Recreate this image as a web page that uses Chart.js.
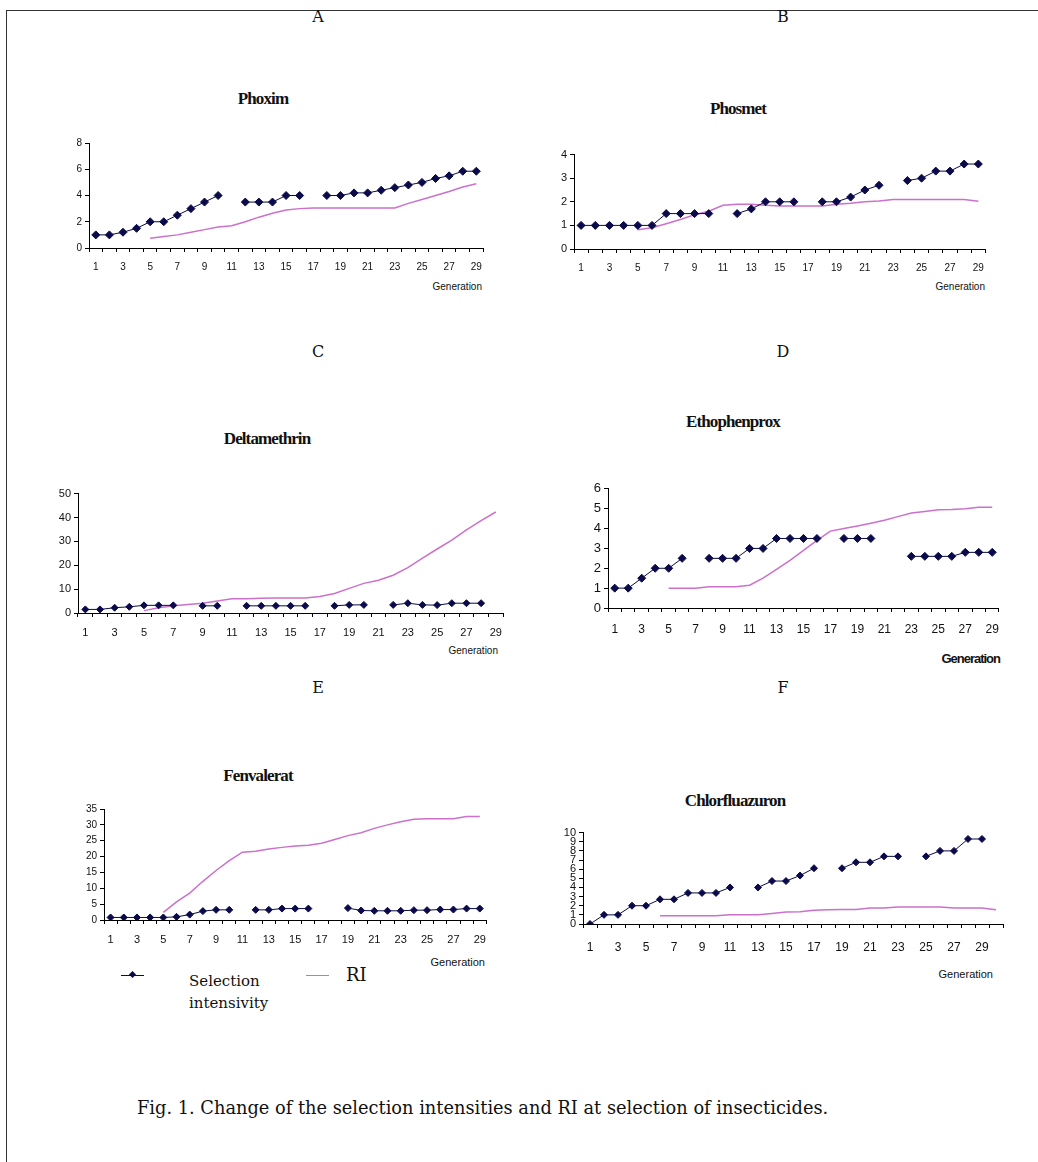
<!DOCTYPE html>
<html>
<head>
<meta charset="utf-8">
<script src="https://cdn.jsdelivr.net/npm/chart.js@4.4.1/dist/chart.umd.min.js"></script>
<style>
html,body{margin:0;padding:0;background:#fff;}
body{width:1038px;height:1162px;position:relative;overflow:hidden;}
#frame{position:absolute;left:6px;top:10px;width:1200px;height:1300px;border-left:1px solid #333;border-top:1px solid #333;}
.t{position:absolute;white-space:nowrap;transform:translate(-50%,-50%);color:#111;line-height:1;}
.r{position:absolute;white-space:nowrap;transform:translate(-100%,-50%);color:#111;line-height:1;}
.l{position:absolute;white-space:nowrap;transform:translate(0,-50%);color:#111;line-height:1;}
.letter{font-family:"DejaVu Serif",serif;font-size:16px;}
.title{font-family:"Liberation Serif",serif;font-weight:bold;font-size:17px;letter-spacing:-0.9px;}
.gen{font-family:"Liberation Sans",Arial,sans-serif;font-size:10px;}
.genb{font-family:"Liberation Sans Narrow","Liberation Sans",sans-serif;font-weight:bold;font-size:13px;letter-spacing:-1px;}
.leg{font-family:"DejaVu Serif",serif;font-size:15px;}
.cap{font-family:"DejaVu Serif",serif;font-size:17.8px;}
.wrap{position:absolute;}
</style>
</head>
<body>
<div id="frame"></div>

<div class="t letter" style="left:318px;top:17px;">A</div>
<div class="t letter" style="left:783px;top:17px;">B</div>
<div class="t letter" style="left:318px;top:352px;">C</div>
<div class="t letter" style="left:783px;top:352px;">D</div>
<div class="t letter" style="left:318px;top:688px;">E</div>
<div class="t letter" style="left:783px;top:688px;">F</div>

<div class="t title" style="left:263px;top:98px;">Phoxim</div>
<div class="t title" style="left:738px;top:108px;">Phosmet</div>
<div class="t title" style="left:267px;top:438px;">Deltamethrin</div>
<div class="t title" style="left:733px;top:421px;">Ethophenprox</div>
<div class="t title" style="left:258px;top:775px;">Fenvalerat</div>
<div class="t title" style="left:735px;top:800px;">Chlorfluazuron</div>

<div class="r gen" style="left:482px;top:287px;">Generation</div>
<div class="r gen" style="left:985px;top:287px;">Generation</div>
<div class="r gen" style="left:498px;top:651px;">Generation</div>
<div class="r genb" style="left:1000px;top:658px;">Generation</div>
<div class="r gen" style="left:485px;top:962px;font-size:11px;">Generation</div>
<div class="r gen" style="left:993px;top:974px;font-size:11px;">Generation</div>

<div style="position:absolute;left:121px;top:975px;width:23px;height:1px;background:#0a0a4a;"></div>
<div style="position:absolute;left:130px;top:972px;width:5px;height:5px;background:#0a0a4a;transform:rotate(45deg);"></div>
<div class="l leg" style="left:189px;top:981px;">Selection</div>
<div class="l leg" style="left:189px;top:1003px;">intensivity</div>
<div style="position:absolute;left:306px;top:975px;width:23px;height:1px;background:#cc70cc;"></div>
<div class="l leg" style="left:346px;top:975px;font-size:18px;">RI</div>

<div class="l cap" style="left:137px;top:1108px;">Fig. 1. Change of the selection intensities and RI at selection of insecticides.</div>

<div class="wrap" id="wA"><canvas id="cA"></canvas></div>
<div class="wrap" id="wB"><canvas id="cB"></canvas></div>
<div class="wrap" id="wC"><canvas id="cC"></canvas></div>
<div class="wrap" id="wD"><canvas id="cD"></canvas></div>
<div class="wrap" id="wE"><canvas id="cE"></canvas></div>
<div class="wrap" id="wF"><canvas id="cF"></canvas></div>

<script>
// ---- Data ----
const generations29 = ['1','2','3','4','5','6','7','8','9','10','11','12','13','14','15','16','17','18','19','20','21','22','23','24','25','26','27','28','29'];
const generations30 = ['1','2','3','4','5','6','7','8','9','10','11','12','13','14','15','16','17','18','19','20','21','22','23','24','25','26','27','28','29','30'];

const phoximSelection = [1,1,1.2,1.5,2,2,2.5,3,3.5,4,null,3.5,3.5,3.5,4,4,null,4,4,4.2,4.2,4.4,4.6,4.8,5,5.3,5.5,5.85,5.85];
const phoximRI = [null,null,null,null,0.75,0.88,1.0,1.2,1.4,1.6,1.7,2.0,2.35,2.65,2.9,3.0,3.05,3.05,3.05,3.05,3.05,3.05,3.05,3.4,3.7,4.0,4.3,4.65,4.9];

const phosmetSelection = [1,1,1,1,1,1,1.5,1.5,1.5,1.5,null,1.5,1.7,2,2,2,null,2,2,2.2,2.5,2.7,null,2.9,3,3.3,3.3,3.6,3.6];
const phosmetRI = [null,null,null,null,0.82,0.9,1.07,1.25,1.45,1.6,1.85,1.9,1.9,1.85,1.82,1.82,1.82,1.82,1.9,1.94,2.0,2.03,2.1,2.1,2.1,2.1,2.1,2.1,2.02];

const deltamethrinSelection = [1.5,1.5,2.2,2.6,3.2,3.2,3.2,null,3,3,null,3,3,3,3,3,null,3,3.4,3.4,null,3.4,4.1,3.4,3.3,4.1,4.1,4.1,null];
const deltamethrinRI = [null,null,null,null,1,2.2,3,3.6,4.1,5,6,6,6.2,6.3,6.3,6.3,6.9,8.2,10.3,12.4,13.7,15.8,19,23,26.8,30.5,34.8,38.7,42.3];

const ethophenproxSelection = [1,1,1.5,2,2,2.5,null,2.5,2.5,2.5,3,3,3.5,3.5,3.5,3.5,null,3.5,3.5,3.5,null,null,2.6,2.6,2.6,2.6,2.8,2.8,2.8];
const ethophenproxRI = [null,null,null,null,1,1,1,1.07,1.07,1.07,1.15,1.5,1.95,2.4,2.9,3.4,3.87,4.0,4.13,4.27,4.42,4.6,4.78,4.86,4.94,4.96,5.0,5.07,5.07];

const fenvaleratSelection = [0.8,0.8,0.8,0.8,0.8,1.0,1.7,2.8,3.2,3.2,null,3.2,3.2,3.6,3.6,3.6,null,null,3.75,3.0,2.9,2.9,2.9,3.1,3.1,3.3,3.3,3.6,3.6];
const fenvaleratRI = [null,null,null,null,2.4,5.7,8.5,12.2,15.6,18.75,21.4,21.7,22.4,22.9,23.3,23.6,24.2,25.4,26.6,27.5,28.9,30.0,31.0,31.8,31.9,31.9,31.9,32.6,32.6];

const chlorfluazuronSelection = [0,1,1,2,2,2.7,2.7,3.4,3.4,3.4,4,null,4,4.7,4.7,5.3,6.1,null,6.1,6.75,6.75,7.4,7.4,null,7.4,8,8,9.3,9.3,null];
const chlorfluazuronRI = [null,null,null,null,null,0.9,0.9,0.9,0.9,0.9,1.0,1.0,1.0,1.15,1.3,1.33,1.5,1.55,1.6,1.6,1.75,1.75,1.85,1.85,1.85,1.85,1.75,1.75,1.75,1.57];

// axis ranges [min, max, step]
const yRangeA = [0, 8, 2];
const yRangeB = [0, 4, 1];
const yRangeC = [0, 50, 10];
const yRangeD = [0, 6, 1];
const yRangeE = [0, 35, 5];
const yRangeF = [0, 10, 1];

// ---- Drawing ----
const NAVY = '#0a0a4a';
const PINK = '#cc70cc';
const YW = 40, PT = 8, PR = 6, XH = 40;

function panel(id, labels, sel, ri, yr, geo, fontSpec, yFont) {
  const w = geo.right - geo.left + YW + PR;
  const h = geo.y0 - geo.top + PT + XH;
  const wrap = document.getElementById('w' + id);
  wrap.style.left = (geo.left - YW) + 'px';
  wrap.style.top = (geo.top - PT) + 'px';
  const cv = document.getElementById('c' + id);
  cv.width = w; cv.height = h;
  cv.style.width = w + 'px'; cv.style.height = h + 'px';
  new Chart(cv, {
    type: 'line',
    data: {
      labels: labels,
      datasets: [
        {data: ri, borderColor: PINK, borderWidth: 1.5, pointRadius: 0, spanGaps: false, tension: 0, order: 2},
        {data: sel, borderColor: NAVY, backgroundColor: NAVY, borderWidth: 1, pointStyle: 'rectRot',
         pointRadius: geo.pr || 3.5, pointBorderWidth: 1, spanGaps: false, tension: 0, order: 1}
      ]
    },
    options: {
      responsive: false, animation: false, devicePixelRatio: 1,
      layout: {padding: {top: PT, right: PR, left: 0, bottom: 0}},
      plugins: {legend: {display: false}, tooltip: {enabled: false}},
      elements: {line: {borderCapStyle: 'butt'}},
      scales: {
        x: {
          type: 'category', offset: true,
          grid: {offset: true, drawOnChartArea: false, tickLength: 4, color: '#000', lineWidth: 1},
          border: {display: true, color: '#000', width: 1},
          ticks: {autoSkip: false, maxRotation: 0, minRotation: 0, padding: geo.xpad || 9, color: '#111',
                  font: fontSpec,
                  callback: function(v, i) { return i % 2 === 0 ? labels[i] : ''; }},
          afterFit: function(s) { s.height = XH; }
        },
        y: {
          min: yr[0], max: yr[1],
          grid: {drawOnChartArea: false, tickLength: 4, color: '#000', lineWidth: 1},
          border: {display: true, color: '#000', width: 1},
          ticks: {stepSize: yr[2], autoSkip: false, padding: 3, color: '#111', font: yFont || fontSpec},
          afterFit: function(s) { s.width = YW; }
        }
      }
    }
  });
}

const fA = {family: '"Liberation Sans", Arial, sans-serif', size: 10};
const fN = {family: '"Liberation Sans Narrow", "Liberation Sans", sans-serif', size: 11};

panel('A', generations29, phoximSelection, phoximRI, yRangeA, {left: 89, right: 485, top: 142, y0: 248, pr: 4}, fA);
panel('B', generations29, phosmetSelection, phosmetRI, yRangeB, {left: 574, right: 987, top: 153, y0: 249, pr: 4}, fA, {family: fA.family, size: 11});
panel('C', generations29, deltamethrinSelection, deltamethrinRI, yRangeC, {left: 78, right: 505, top: 492, y0: 613}, fN);
panel('D', generations29, ethophenproxSelection, ethophenproxRI, yRangeD, {left: 608, right: 1003, top: 486, y0: 608, pr: 4, xpad: 10}, {family: fN.family, size: 12}, {family: fN.family, size: 13});
panel('E', generations29, fenvaleratSelection, fenvaleratRI, yRangeE, {left: 104, right: 489, top: 808, y0: 920}, fN, {family: fN.family, size: 10});
panel('F', generations30, chlorfluazuronSelection, chlorfluazuronRI, yRangeF, {left: 583, right: 1003, top: 831, y0: 924, xpad: 12}, {family: fN.family, size: 12}, {family: fN.family, size: 11});
</script>
</body>
</html>
